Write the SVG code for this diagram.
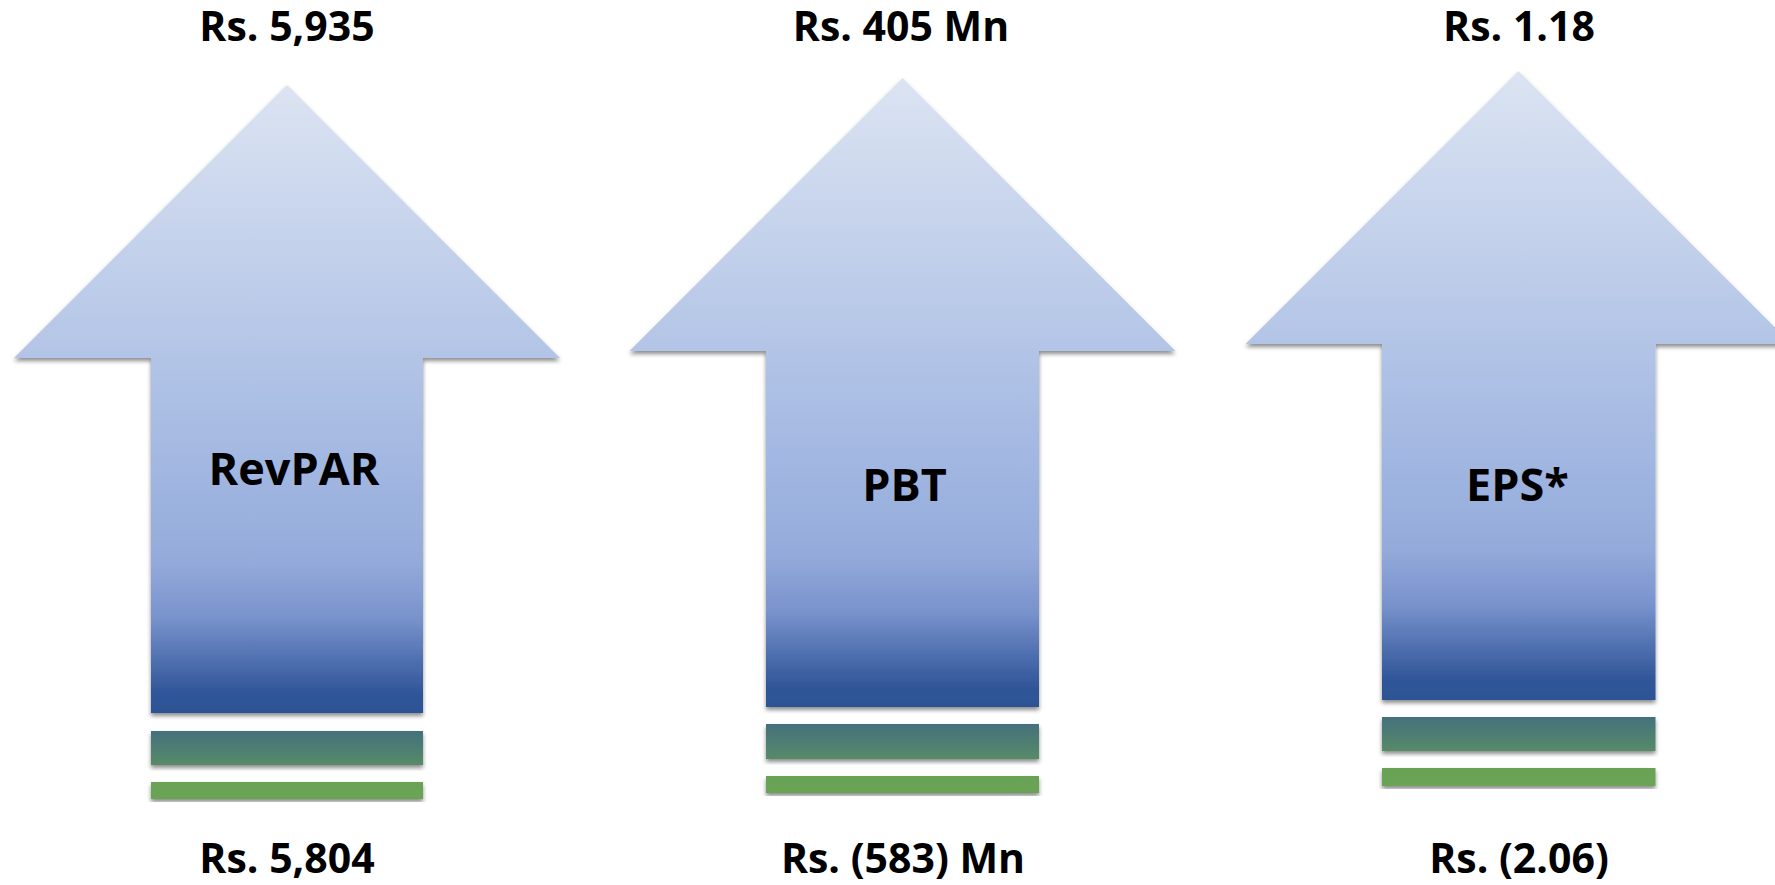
<svg xmlns="http://www.w3.org/2000/svg" width="1775" height="885" viewBox="0 0 1775 885">
  <defs>
    <linearGradient id="arrowGrad" x1="0" y1="0" x2="0" y2="1">
      <stop offset="0" stop-color="#DCE4F2"/>
      <stop offset="0.45" stop-color="#B1C3E6"/>
      <stop offset="0.66" stop-color="#9DB3DF"/>
      <stop offset="0.76" stop-color="#94AADA"/>
      <stop offset="0.85" stop-color="#7892CC"/>
      <stop offset="0.92" stop-color="#4D6DAE"/>
      <stop offset="0.97" stop-color="#2F5597"/>
      <stop offset="1" stop-color="#2E5395"/>
    </linearGradient>
    <linearGradient id="bar2Grad" x1="0" y1="0" x2="0" y2="1">
      <stop offset="0" stop-color="#45707D"/>
      <stop offset="1" stop-color="#568B68"/>
    </linearGradient>
    <linearGradient id="bar3Grad" x1="0" y1="0" x2="0" y2="1">
      <stop offset="0" stop-color="#69A255"/>
      <stop offset="1" stop-color="#6AA453"/>
    </linearGradient>
    <filter id="shadow" x="-5%" y="-5%" width="110%" height="120%">
      <feDropShadow dx="0" dy="3" stdDeviation="2" flood-color="#000" flood-opacity="0.45"/>
    </filter>
  </defs>
  <style>
    .arrow { fill: url(#arrowGrad); filter: url(#shadow); }
    .bar2 { fill: url(#bar2Grad); filter: url(#shadow); }
    .bar3 { fill: url(#bar3Grad); filter: url(#shadow); }
    .val { font-family: "Open Sans", "Liberation Sans", sans-serif; font-weight: bold; font-size: 41px; fill: #000; text-anchor: middle; }
    .lbl { font-family: "Open Sans", "Liberation Sans", sans-serif; font-weight: bold; font-size: 45px; fill: #000; text-anchor: middle; }
  </style>
  <rect width="1775" height="885" fill="#FFFFFF"/>

  <g id="revpar">
    <path class="arrow" d="M287,85 L560,358 L423,358 L423,713 L151,713 L151,358 L14,358 Z"/>
    <rect class="bar2" x="151" y="731" width="272" height="34"/>
    <rect class="bar3" x="151" y="782" width="272" height="17"/>
    <text class="val" x="287" y="41">Rs. 5,935</text>
    <text class="lbl" x="294" y="485">RevPAR</text>
    <text class="val" x="287" y="873">Rs. 5,804</text>
  </g>

  <g id="pbt">
    <path class="arrow" d="M902.5,78 L1175.5,351 L1039,351 L1039,707 L766,707 L766,351 L629.5,351 Z"/>
    <rect class="bar2" x="766" y="724" width="273" height="35"/>
    <rect class="bar3" x="766" y="776" width="273" height="17"/>
    <text class="val" x="901" y="41">Rs. 405 Mn</text>
    <text class="lbl" x="904.5" y="501">PBT</text>
    <text class="val" x="903" y="873">Rs. (583) Mn</text>
  </g>

  <g id="eps">
    <path class="arrow" d="M1518.5,71 L1791.5,344 L1655.5,344 L1655.5,700 L1382,700 L1382,344 L1245.5,344 Z"/>
    <rect class="bar2" x="1382" y="717" width="273.5" height="34"/>
    <rect class="bar3" x="1382" y="768" width="273.5" height="18"/>
    <text class="val" x="1519" y="41">Rs. 1.18</text>
    <text class="lbl" x="1517.5" y="501">EPS*</text>
    <text class="val" x="1519" y="873">Rs. (2.06)</text>
  </g>

  <g id="connectors"/>
</svg>
